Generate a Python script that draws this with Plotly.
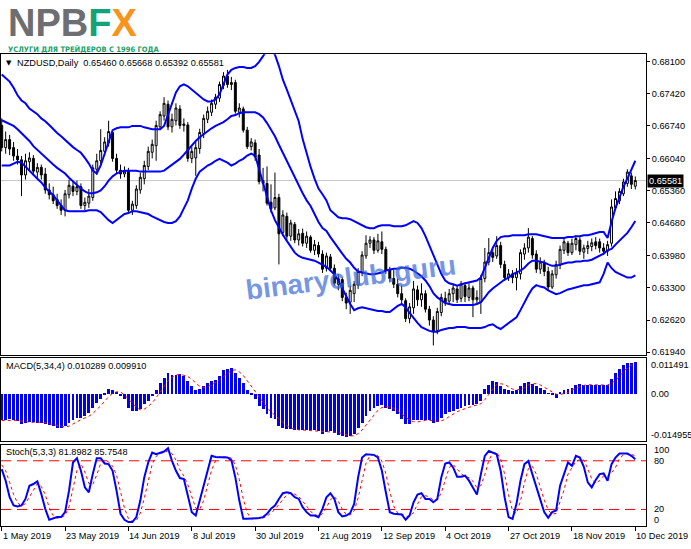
import plotly.graph_objects as go

# ---------------- DATA ----------------
symbol = "NZDUSD"
timeframe = "Daily"
date_labels = ["1 May 2019", "23 May 2019", "14 Jun 2019", "8 Jul 2019", "30 Jul 2019",
               "21 Aug 2019", "12 Sep 2019", "4 Oct 2019", "27 Oct 2019", "18 Nov 2019", "10 Dec 2019"]
date_label_bars = [0, 16, 32, 48, 64, 80, 96, 112, 128, 144, 160]
price_ticks = [0.61940, 0.62620, 0.63300, 0.63980, 0.64680, 0.65360, 0.66040, 0.66740, 0.67420, 0.68100]
macd_scale_max = 0.011491
macd_scale_min = -0.014955
stoch_levels = [20, 80]
stoch_ticks = [100, 80, 20, 0]

open_ = [0.6675,0.6628,0.6645,0.6628,0.6610,0.6602,0.6570,0.6598,0.6605,0.6576,
0.6586,0.6572,0.6538,0.6528,0.6518,0.6505,0.6495,0.6528,0.6546,0.6535,
0.6545,0.6505,0.6510,0.6522,0.6582,0.6600,0.6620,0.6638,0.6660,0.6605,
0.6580,0.6572,0.6578,0.6495,0.6505,0.6538,0.6562,0.6588,0.6618,0.6632,
0.6672,0.6695,0.6720,0.6672,0.6685,0.6710,0.6675,0.6676,0.6605,0.6606,
0.6626,0.6658,0.6688,0.6703,0.6720,0.6733,0.6760,0.6780,0.6762,0.6766,
0.6703,0.6710,0.6665,0.6630,0.6638,0.6612,0.6558,0.6552,0.6512,0.6500,
0.6522,0.6448,0.6482,0.6440,0.6465,0.6432,0.6446,0.6425,0.6438,0.6410,
0.6420,0.6402,0.6372,0.6396,0.6372,0.6338,0.6348,0.6310,0.6300,0.6318,
0.6336,0.6363,0.6398,0.6425,0.6432,0.6410,0.6428,0.6412,0.6368,0.6350,
0.6338,0.6318,0.6303,0.6265,0.6288,0.6326,0.6305,0.6318,0.6285,0.6262,
0.6240,0.6278,0.6308,0.6302,0.6318,0.6328,0.6308,0.6335,0.6310,0.6330,
0.6305,0.6300,0.6350,0.6385,0.6405,0.6398,0.6420,0.6380,0.6352,0.6360,
0.6352,0.6360,0.6402,0.6415,0.6435,0.6402,0.6370,0.6382,0.6365,0.6332,
0.6358,0.6378,0.6410,0.6425,0.6405,0.6422,0.6432,0.6406,0.6414,0.6418,
0.6428,0.6428,0.6415,0.6408,0.6425,0.6500,0.6515,0.6530,0.6552,0.6568,
0.65460]

high = [0.6690,0.6662,0.6655,0.6640,0.6625,0.6610,0.6615,0.6618,0.6612,0.6595,
0.6592,0.6585,0.6552,0.6545,0.6530,0.6518,0.6538,0.6560,0.6555,0.6558,
0.6552,0.6522,0.6540,0.6592,0.6615,0.6667,0.6650,0.6685,0.6665,0.6615,
0.6592,0.6588,0.6585,0.6515,0.6548,0.6575,0.6600,0.6630,0.6645,0.6685,
0.6705,0.6735,0.6728,0.6700,0.6722,0.6718,0.6690,0.6682,0.6630,0.6640,
0.6668,0.6698,0.6715,0.6730,0.6742,0.6768,0.6788,0.6793,0.6778,0.6772,
0.6722,0.6715,0.6672,0.6648,0.6645,0.6625,0.6585,0.6588,0.6550,0.6575,
0.6530,0.6495,0.6490,0.6475,0.6470,0.6455,0.6456,0.6450,0.6442,0.6432,
0.6428,0.6410,0.6405,0.6402,0.6380,0.6360,0.6352,0.6320,0.6335,0.6345,
0.6372,0.6408,0.6442,0.6440,0.6438,0.6445,0.6450,0.6418,0.6375,0.6368,
0.6350,0.6335,0.6308,0.6298,0.6345,0.6335,0.6340,0.6325,0.6292,0.6270,
0.6288,0.6318,0.6322,0.6328,0.6338,0.6335,0.6345,0.6342,0.6340,0.6335,
0.6325,0.6358,0.6415,0.6436,0.6418,0.6440,0.6428,0.6388,0.6370,0.6368,
0.6372,0.6412,0.6425,0.6457,0.6440,0.6410,0.6395,0.6390,0.6375,0.6368,
0.6388,0.6420,0.6438,0.6430,0.6435,0.6442,0.6438,0.6422,0.6430,0.6435,
0.6438,0.6435,0.6425,0.6430,0.6518,0.6535,0.6542,0.6562,0.6582,0.6575,
0.65668]

low = [0.6620,0.6615,0.6612,0.6600,0.6592,0.6525,0.6560,0.6580,0.6568,0.6562,
0.6560,0.6530,0.6518,0.6508,0.6498,0.6485,0.6482,0.6520,0.6525,0.6527,
0.6498,0.6495,0.6500,0.6515,0.6570,0.6592,0.6610,0.6630,0.6598,0.6572,
0.6562,0.6565,0.6488,0.6485,0.6498,0.6530,0.6550,0.6580,0.6605,0.6600,
0.6665,0.6685,0.6665,0.6660,0.6675,0.6668,0.6662,0.6598,0.6595,0.6568,
0.6615,0.6648,0.6680,0.6695,0.6710,0.6725,0.6752,0.6755,0.6750,0.6700,
0.6692,0.6660,0.6625,0.6622,0.6600,0.6550,0.6535,0.6505,0.6490,0.6495,
0.6380,0.6440,0.6432,0.6430,0.6425,0.6420,0.6418,0.6415,0.6405,0.6400,
0.6395,0.6362,0.6365,0.6365,0.6335,0.6325,0.6302,0.6285,0.6275,0.6300,
0.6328,0.6355,0.6392,0.6415,0.6402,0.6405,0.6402,0.6360,0.6342,0.6330,
0.6310,0.6295,0.6258,0.6255,0.6275,0.6292,0.6290,0.6278,0.6250,0.6208,
0.6232,0.6270,0.6292,0.6295,0.6300,0.6298,0.6300,0.6300,0.6302,0.6268,
0.6295,0.6275,0.6342,0.6378,0.6385,0.6392,0.6372,0.6345,0.6345,0.6340,
0.6325,0.6348,0.6390,0.6405,0.6392,0.6362,0.6360,0.6355,0.6325,0.6328,
0.6350,0.6370,0.6402,0.6398,0.6400,0.6410,0.6400,0.6392,0.6402,0.6408,
0.6412,0.6405,0.6400,0.6398,0.6418,0.6495,0.6508,0.6525,0.6545,0.6540,
0.65392]

close = [0.6628,0.6645,0.6625,0.6610,0.6602,0.6570,0.6600,0.6606,0.6578,0.6586,
0.6570,0.6538,0.6528,0.6515,0.6505,0.6495,0.6530,0.6548,0.6535,0.6545,
0.6505,0.6512,0.6525,0.6585,0.6600,0.6622,0.6640,0.6662,0.6605,0.6580,
0.6572,0.6578,0.6495,0.6508,0.6540,0.6565,0.6590,0.6620,0.6635,0.6675,
0.6698,0.6722,0.6672,0.6688,0.6712,0.6675,0.6678,0.6605,0.6620,0.6628,
0.6660,0.6690,0.6705,0.6722,0.6735,0.6762,0.6780,0.6762,0.6766,0.6705,
0.6712,0.6665,0.6630,0.6640,0.6608,0.6556,0.6552,0.6510,0.6498,0.6522,
0.6445,0.6485,0.6440,0.6468,0.6432,0.6445,0.6425,0.6440,0.6410,0.6422,
0.6402,0.6370,0.6398,0.6372,0.6340,0.6350,0.6310,0.6298,0.6325,0.6338,
0.6365,0.6400,0.6425,0.6432,0.6410,0.6430,0.6412,0.6368,0.6350,0.6338,
0.6318,0.6305,0.6265,0.6290,0.6328,0.6305,0.6318,0.6285,0.6262,0.6238,
0.6280,0.6310,0.6300,0.6318,0.6330,0.6305,0.6338,0.6312,0.6330,0.6305,
0.6310,0.6350,0.6385,0.6405,0.6395,0.6420,0.6380,0.6352,0.6360,0.6352,
0.6362,0.6405,0.6415,0.6438,0.6400,0.6370,0.6385,0.6365,0.6332,0.6360,
0.6380,0.6412,0.6428,0.6405,0.6425,0.6435,0.6408,0.6415,0.6420,0.6426,
0.6420,0.6415,0.6408,0.6422,0.6502,0.6520,0.6535,0.6555,0.6576,0.6550,
0.65581]

bb_upper = [0.6783,0.6776,0.6768,0.6755,0.6739,0.6728,0.6722,0.6711,0.6705,0.6699,
0.6690,0.6684,0.6676,0.6667,0.6659,0.6652,0.6644,0.6636,0.6629,0.6623,
0.6617,0.6606,0.6594,0.6579,0.6573,0.6590,0.6615,0.6642,0.6665,0.6669,
0.6671,0.6671,0.6671,0.6674,0.6674,0.6674,0.6671,0.6669,0.6667,0.6667,
0.6667,0.6674,0.6699,0.6724,0.6745,0.6758,0.6762,0.6758,0.6751,0.6743,
0.6736,0.6730,0.6726,0.6726,0.6730,0.6741,0.6762,0.6783,0.6793,0.6797,
0.6799,0.6799,0.6797,0.6797,0.6801,0.6810,0.6822,0.6835,0.6839,0.6825,
0.6801,0.6772,0.6751,0.6730,0.6709,0.6684,0.6646,0.6615,0.6587,0.6562,
0.6541,0.6529,0.6516,0.6495,0.6487,0.6480,0.6478,0.6478,0.6476,0.6472,
0.6468,0.6463,0.6459,0.6457,0.6457,0.6461,0.6463,0.6463,0.6463,0.6461,
0.6461,0.6461,0.6463,0.6468,0.6472,0.6468,0.6457,0.6440,0.6419,0.6398,
0.6381,0.6360,0.6346,0.6340,0.6338,0.6335,0.6338,0.6340,0.6342,0.6344,
0.6346,0.6352,0.6373,0.6398,0.6415,0.6430,0.6438,0.6440,0.6440,0.6442,
0.6442,0.6442,0.6442,0.6444,0.6444,0.6444,0.6442,0.6440,0.6438,0.6436,
0.6436,0.6436,0.6436,0.6438,0.6438,0.6440,0.6440,0.6442,0.6442,0.6444,
0.6447,0.6449,0.6449,0.6436,0.6470,0.6500,0.6522,0.6545,0.6562,0.6580,
0.6600]

bb_middle = [0.6686,0.6682,0.6678,0.6674,0.6667,0.6659,0.6650,0.6642,0.6631,0.6623,
0.6615,0.6606,0.6600,0.6592,0.6585,0.6579,0.6573,0.6564,0.6556,0.6548,
0.6541,0.6535,0.6531,0.6531,0.6533,0.6537,0.6546,0.6558,0.6567,0.6573,
0.6577,0.6579,0.6579,0.6579,0.6579,0.6577,0.6577,0.6577,0.6577,0.6577,
0.6577,0.6579,0.6585,0.6592,0.6598,0.6604,0.6613,0.6623,0.6634,0.6642,
0.6650,0.6657,0.6663,0.6669,0.6674,0.6678,0.6682,0.6688,0.6695,0.6697,
0.6701,0.6703,0.6703,0.6703,0.6703,0.6699,0.6692,0.6680,0.6667,0.6652,
0.6634,0.6617,0.6598,0.6581,0.6564,0.6546,0.6531,0.6516,0.6504,0.6487,
0.6470,0.6457,0.6451,0.6438,0.6426,0.6413,0.6403,0.6392,0.6384,0.6373,
0.6365,0.6363,0.6361,0.6359,0.6359,0.6361,0.6363,0.6367,0.6369,0.6371,
0.6371,0.6373,0.6373,0.6371,0.6367,0.6361,0.6355,0.6346,0.6334,0.6319,
0.6310,0.6304,0.6298,0.6296,0.6294,0.6294,0.6294,0.6294,0.6294,0.6294,
0.6296,0.6300,0.6310,0.6321,0.6329,0.6335,0.6342,0.6348,0.6352,0.6359,
0.6363,0.6367,0.6373,0.6382,0.6388,0.6388,0.6386,0.6384,0.6380,0.6377,
0.6377,0.6380,0.6382,0.6384,0.6384,0.6386,0.6386,0.6388,0.6388,0.6390,
0.6394,0.6398,0.6403,0.6410,0.6413,0.6422,0.6430,0.6438,0.6447,0.6459,
0.6472]

bb_lower = [0.6590,0.6590,0.6590,0.6594,0.6598,0.6596,0.6587,0.6579,0.6571,0.6562,
0.6554,0.6543,0.6535,0.6527,0.6516,0.6506,0.6495,0.6493,0.6493,0.6493,
0.6493,0.6493,0.6495,0.6495,0.6495,0.6491,0.6482,0.6474,0.6468,0.6474,
0.6480,0.6487,0.6489,0.6493,0.6493,0.6491,0.6489,0.6487,0.6482,0.6478,
0.6474,0.6470,0.6468,0.6468,0.6472,0.6482,0.6499,0.6516,0.6541,0.6562,
0.6577,0.6583,0.6590,0.6594,0.6600,0.6604,0.6600,0.6596,0.6590,0.6594,
0.6600,0.6604,0.6611,0.6615,0.6611,0.6583,0.6552,0.6524,0.6495,0.6474,
0.6457,0.6443,0.6430,0.6417,0.6405,0.6398,0.6394,0.6392,0.6390,0.6388,
0.6384,0.6380,0.6375,0.6367,0.6359,0.6346,0.6329,0.6310,0.6296,0.6283,
0.6287,0.6289,0.6287,0.6285,0.6283,0.6281,0.6281,0.6279,0.6279,0.6285,
0.6292,0.6296,0.6289,0.6277,0.6266,0.6256,0.6247,0.6243,0.6239,0.6237,
0.6237,0.6241,0.6243,0.6245,0.6245,0.6247,0.6247,0.6247,0.6245,0.6245,
0.6245,0.6245,0.6247,0.6251,0.6253,0.6247,0.6243,0.6249,0.6256,0.6262,
0.6268,0.6283,0.6300,0.6315,0.6329,0.6336,0.6333,0.6331,0.6325,0.6321,
0.6317,0.6319,0.6323,0.6327,0.6329,0.6331,0.6333,0.6336,0.6336,0.6338,
0.6340,0.6342,0.6360,0.6384,0.6372,0.6364,0.6360,0.6356,0.6352,0.6352,
0.6357]

macd_main = [-0.00847,-0.00847,-0.00815,-0.00847,-0.00869,-0.00953,-0.00922,-0.00890,-0.00890,-0.00922,
-0.00922,-0.00975,-0.00996,-0.01028,-0.01081,-0.01102,-0.01028,-0.00922,-0.00847,-0.00784,
-0.00762,-0.00709,-0.00603,-0.00444,-0.00284,-0.00178,-0.00040,0.00172,0.00109,0.00034,
-0.00072,-0.00178,-0.00444,-0.00550,-0.00550,-0.00497,-0.00338,-0.00231,-0.00072,0.00140,
0.00353,0.00512,0.00671,0.00597,0.00618,0.00640,0.00565,0.00406,0.00247,0.00140,
0.00172,0.00247,0.00353,0.00406,0.00459,0.00565,0.00778,0.00810,0.00831,0.00671,
0.00512,0.00353,0.00140,-0.00020,-0.00178,-0.00391,-0.00497,-0.00656,-0.00762,-0.00815,
-0.01028,-0.01081,-0.01134,-0.01134,-0.01166,-0.01166,-0.01166,-0.01166,-0.01166,-0.01166,
-0.01187,-0.01272,-0.01208,-0.01187,-0.01240,-0.01315,-0.01346,-0.01378,-0.01346,-0.01293,
-0.01081,-0.00922,-0.00709,-0.00550,-0.00444,-0.00391,-0.00359,-0.00444,-0.00497,-0.00550,
-0.00656,-0.00815,-0.00953,-0.00953,-0.00847,-0.00847,-0.00847,-0.00847,-0.00847,-0.00922,
-0.00890,-0.00784,-0.00656,-0.00582,-0.00550,-0.00497,-0.00444,-0.00391,-0.00359,-0.00359,
-0.00316,-0.00231,0.00172,0.00278,0.00406,0.00374,0.00247,0.00172,0.00109,0.00087,
0.00140,0.00247,0.00353,0.00385,0.00321,0.00247,0.00194,0.00109,0.00020,-0.00020,
-0.00146,0.00066,0.00109,0.00151,0.00194,0.00278,0.00321,0.00300,0.00278,0.00278,
0.00278,0.00278,0.00278,0.00300,0.00491,0.00660,0.00800,0.00920,0.00990,0.01000,
0.010289]

macd_signal = [-0.00855,-0.00849,-0.00840,-0.00839,-0.00845,-0.00871,-0.00898,-0.00909,-0.00914,-0.00906,
-0.00906,-0.00927,-0.00954,-0.00980,-0.01020,-0.01052,-0.01060,-0.01033,-0.00975,-0.00895,
-0.00829,-0.00776,-0.00715,-0.00630,-0.00510,-0.00377,-0.00237,-0.00083,0.00016,0.00069,
0.00061,-0.00027,-0.00165,-0.00311,-0.00431,-0.00510,-0.00484,-0.00404,-0.00285,-0.00125,
0.00048,0.00233,0.00419,0.00533,0.00600,0.00632,0.00605,0.00557,0.00465,0.00340,
0.00241,0.00202,0.00228,0.00295,0.00366,0.00446,0.00552,0.00653,0.00746,0.00773,
0.00706,0.00592,0.00419,0.00246,0.00074,-0.00112,-0.00272,-0.00431,-0.00577,-0.00683,
-0.00815,-0.00922,-0.01015,-0.01094,-0.01129,-0.01150,-0.01158,-0.01166,-0.01166,-0.01166,
-0.01171,-0.01198,-0.01208,-0.01214,-0.01227,-0.01238,-0.01272,-0.01320,-0.01346,-0.01341,
-0.01275,-0.01161,-0.01001,-0.00816,-0.00656,-0.00524,-0.00436,-0.00410,-0.00423,-0.00463,
-0.00537,-0.00630,-0.00744,-0.00844,-0.00892,-0.00900,-0.00874,-0.00847,-0.00847,-0.00866,
-0.00877,-0.00861,-0.00813,-0.00728,-0.00643,-0.00571,-0.00518,-0.00471,-0.00423,-0.00388,
-0.00356,-0.00316,-0.00184,-0.00024,0.00156,0.00308,0.00326,0.00300,0.00226,0.00154,
0.00127,0.00146,0.00207,0.00281,0.00327,0.00327,0.00287,0.00218,0.00143,0.00076,
-0.00009,-0.00020,0.00002,0.00045,0.00130,0.00183,0.00236,0.00273,0.00294,0.00294,
0.00284,0.00278,0.00278,0.00284,0.00337,0.00432,0.00563,0.00718,0.00843,0.00928,
0.009910]

stoch_main = [69.7,55.5,35.1,24.9,23.6,24.9,33.0,49.3,51.4,54.6,
39.1,20.8,7.3,9.4,10.6,10.6,16.7,43.2,77.9,83.2,
67.7,47.3,41.2,63.6,83.2,83.2,76.7,75.9,67.7,43.2,
14.7,7.3,4.5,4.5,10.6,31.0,59.5,77.9,90.1,88.1,
90.1,91.4,95.4,79.9,67.7,58.7,57.5,35.1,16.7,12.6,
31.0,49.3,69.7,86.1,84.8,84.8,84.8,84.0,80.8,59.5,
31.0,8.5,8.5,8.5,8.5,9.4,10.6,14.7,20.8,24.9,
33.0,40.0,41.2,40.0,35.1,33.0,22.8,16.7,12.6,12.6,
10.6,20.8,35.1,40.0,33.0,16.7,11.4,12.6,15.5,26.9,
59.5,84.0,88.1,87.3,87.3,84.0,67.7,41.2,16.7,14.7,
14.7,13.8,7.3,12.6,28.9,38.3,40.0,33.0,33.0,28.9,
33.0,59.5,76.7,77.9,71.8,60.4,60.4,61.6,55.5,47.3,
38.3,63.6,86.1,92.2,90.1,88.1,67.7,35.1,10.6,8.5,
26.9,55.5,75.9,79.9,63.6,47.3,31.0,16.7,9.8,16.7,
18.7,49.3,63.6,77.9,73.8,86.1,84.0,72.6,53.4,47.3,
56.3,63.6,64.4,55.5,75.9,84.0,88.9,88.9,88.9,86.1,
81.8982]

stoch_signal = [75.0,67.7,53.4,38.5,27.9,24.5,27.2,35.7,44.6,51.8,
48.4,38.2,22.4,12.5,9.1,10.2,12.6,23.5,45.9,68.1,
76.3,66.1,52.1,50.7,62.7,76.7,81.0,78.6,73.4,62.3,
41.9,21.7,8.8,5.4,6.5,15.4,33.7,56.1,75.8,85.4,
89.4,89.9,92.3,88.9,81.0,68.8,61.3,50.4,36.4,21.5,
20.1,31.0,50.0,68.4,80.2,85.2,84.8,84.5,83.2,74.8,
57.1,33.0,16.0,8.5,8.5,8.8,9.5,11.6,15.4,20.1,
26.2,32.6,38.1,40.4,38.8,36.0,30.3,24.2,17.4,14.0,
11.9,14.7,22.2,32.0,36.0,29.9,20.4,13.6,13.2,18.3,
34.0,56.8,77.2,86.5,87.6,86.2,79.7,64.3,41.9,24.2,
15.4,14.4,11.9,11.2,16.3,26.6,35.7,37.1,35.3,31.6,
31.6,40.5,56.4,71.4,75.5,70.0,64.2,60.8,59.2,54.8,
47.0,49.7,62.7,80.6,89.5,90.1,82.0,63.6,37.8,18.1,
15.3,30.3,52.8,70.4,73.1,63.6,47.3,31.7,19.2,14.4,
15.1,28.2,43.9,63.6,71.8,79.3,81.3,80.9,70.0,57.8,
52.3,55.7,61.4,61.2,65.3,71.8,82.9,87.3,88.9,88.0,
85.7548]

bars = list(range(len(close)))

# ---------------- GEOMETRY / STYLE ----------------
W, H = 691, 549
FONT = "Liberation Sans, Arial, sans-serif"
FS = 9.2


def fx(p):
    return p / W


def fy(p):
    return 1 - p / H


x_dom = [fx(1), fx(646)]
main_dom = [fy(356.7), fy(54.5)]
macd_dom = [fy(443), fy(360)]
stoch_dom = [fy(528.6), fy(447)]
x_range = [-0.18, 162.7]
main_range = [0.61883, 0.68262]

BLUE = "#0000ff"

fig = go.Figure()

fig.add_trace(go.Candlestick(
    x=bars, open=open_, high=high, low=low, close=close,
    increasing=dict(fillcolor="white", line=dict(color="black", width=1)),
    decreasing=dict(fillcolor="black", line=dict(color="black", width=1)),
    whiskerwidth=0, xaxis="x", yaxis="y", showlegend=False))

for band in (bb_upper, bb_middle, bb_lower):
    fig.add_trace(go.Scatter(x=bars, y=band, mode="lines",
                             line=dict(color=BLUE, width=2),
                             xaxis="x", yaxis="y", showlegend=False))

fig.add_trace(go.Bar(x=bars, y=macd_main, width=0.72,
                     marker=dict(color="#0000f0", line=dict(width=0)),
                     xaxis="x2", yaxis="y2", showlegend=False))
fig.add_trace(go.Scatter(x=bars, y=macd_signal, mode="lines",
                         line=dict(color="red", width=1, dash="dot"),
                         xaxis="x2", yaxis="y2", showlegend=False))

fig.add_trace(go.Scatter(x=bars, y=stoch_signal, mode="lines",
                         line=dict(color="red", width=1, dash="dot"),
                         xaxis="x3", yaxis="y3", showlegend=False))
fig.add_trace(go.Scatter(x=bars, y=stoch_main, mode="lines",
                         line=dict(color=BLUE, width=2),
                         xaxis="x3", yaxis="y3", showlegend=False))

shapes = [dict(type="line", xref="x domain", yref="y", x0=0, x1=1,
               y0=close[-1], y1=close[-1], line=dict(color="#c8c8c8", width=1), layer="below")]
for lvl in stoch_levels:
    shapes.append(dict(type="line", xref="x3 domain", yref="y3", x0=0, x1=1, y0=lvl, y1=lvl,
                       line=dict(color="red", width=1, dash="10px,6px"), layer="below"))

ann = []
# logo
ann.append(dict(xref="paper", yref="paper", x=fx(7), y=fy(1.0), xanchor="left", yanchor="top",
                borderpad=0,
                text="<span style='color:#6d6e71'>NPB</span><span style='color:#13a37a'>F</span>"
                     "<span style='color:#f7941d'>X</span>",
                showarrow=False, font=dict(family=FONT, size=38, weight="bold")))
ann.append(dict(xref="paper", yref="paper", x=fx(6), y=fy(49.3), xanchor="left", yanchor="middle",
                text="УСЛУГИ ДЛЯ ТРЕЙДЕРОВ С 1996 ГОДА", showarrow=False,
                font=dict(family="DejaVu Sans Condensed, Liberation Sans Narrow, sans-serif", size=7.5,
                          color="#1a9f6c", weight="bold")))
# header
ann.append(dict(xref="paper", yref="paper", x=fx(4), y=fy(63.5), xanchor="left", yanchor="middle",
                text="▼", showarrow=False, font=dict(family="DejaVu Sans", size=7, color="black")))
header = f"{symbol},{timeframe}  {open_[-1]:.5f} {high[-1]:.5f} {low[-1]:.5f} {close[-1]:.5f}"
ann.append(dict(xref="paper", yref="paper", x=fx(15), y=fy(63.5), xanchor="left", yanchor="middle",
                text=header, showarrow=False, font=dict(family=FONT, size=FS, color="black")))
# indicator captions
ann.append(dict(xref="paper", yref="paper", x=fx(4), y=fy(368), xanchor="left", yanchor="middle",
                text=f"MACD(5,34,4) {macd_main[-1]:.6f} {macd_signal[-1]:.6f}", showarrow=False,
                font=dict(family=FONT, size=FS, color="black")))
ann.append(dict(xref="paper", yref="paper", x=fx(4), y=fy(454.5), xanchor="left", yanchor="middle",
                text=f"Stoch(5,3,3) {stoch_main[-1]:.4f} {stoch_signal[-1]:.4f}", showarrow=False,
                font=dict(family=FONT, size=FS, color="black")))
# current price box
ann.append(dict(xref="paper", yref="y", x=fx(647), y=close[-1], xanchor="left", yanchor="middle",
                text=f"{close[-1]:.5f}", showarrow=False, bgcolor="black", borderpad=1,
                font=dict(family=FONT, size=FS, color="white")))
# macd scale labels
for val, shift, txt in ((macd_scale_max, -6.5, f"{macd_scale_max:.6f}"), (0.0, 0, "0.00"),
                        (macd_scale_min, 5.5, f"{macd_scale_min:.6f}")):
    ann.append(dict(xref="paper", yref="y2", x=fx(649), y=val, yshift=shift, xanchor="left",
                    yanchor="middle", text=txt, showarrow=False,
                    font=dict(family=FONT, size=FS, color="black")))
# stoch scale labels
for val in stoch_ticks:
    shift = -5.5 if val == 100 else (6 if val == 0 else 0)
    ann.append(dict(xref="paper", yref="y3", x=fx(652), y=val, yshift=shift, xanchor="left",
                    yanchor="middle", text=str(val), showarrow=False,
                    font=dict(family=FONT, size=FS, color="black")))
# date labels
for b, lab in zip(date_label_bars, date_labels):
    ann.append(dict(xref="x3", yref="paper", x=b, y=fy(538.5), xanchor="left", yanchor="middle",
                    xshift=-1, text=lab, showarrow=False,
                    font=dict(family=FONT, size=FS, color="black")))
# watermark
ann.append(dict(xref="paper", yref="paper", x=fx(351), y=fy(279), xanchor="center", yanchor="middle",
                text="<b>binaryclub.guru</b>", textangle=-7, showarrow=False,
                font=dict(family=FONT, size=28, color="rgba(55,105,215,0.7)")))

axis_common = dict(showline=True, mirror=True, linecolor="black", linewidth=1,
                   showgrid=False, zeroline=False, fixedrange=True)

fig.update_layout(
    width=W, height=H, margin=dict(l=0, r=0, t=0, b=0),
    paper_bgcolor="white", plot_bgcolor="white", showlegend=False, hovermode=False,
    font=dict(family=FONT, size=FS, color="black"), bargap=0,
    xaxis=dict(domain=x_dom, range=x_range, anchor="y", showticklabels=False, ticks="",
               rangeslider=dict(visible=False), **axis_common),
    xaxis2=dict(domain=x_dom, range=x_range, anchor="y2", showticklabels=False, ticks="",
                **axis_common),
    xaxis3=dict(domain=x_dom, range=x_range, anchor="y3", showticklabels=False, ticks="outside",
                ticklen=4, tickcolor="black", tickvals=date_label_bars, **axis_common),
    yaxis=dict(domain=main_dom, range=main_range, anchor="x", side="right",
               tickvals=price_ticks, ticktext=[f"{v:.5f}" for v in price_ticks],
               ticks="outside", ticklen=3, tickcolor="black",
               tickfont=dict(family=FONT, size=FS, color="black"), **axis_common),
    yaxis2=dict(domain=macd_dom, range=[macd_scale_min, macd_scale_max], anchor="x2", side="right",
                showticklabels=False, ticks="", **axis_common),
    yaxis3=dict(domain=stoch_dom, range=[0, 100], anchor="x3", side="right",
                showticklabels=False, ticks="", **axis_common),
    shapes=shapes, annotations=ann,
)

fig.write_html("out.html", config={"displayModeBar": False},
               post_script="document.body.style.margin='0';document.body.style.overflow='hidden';")
